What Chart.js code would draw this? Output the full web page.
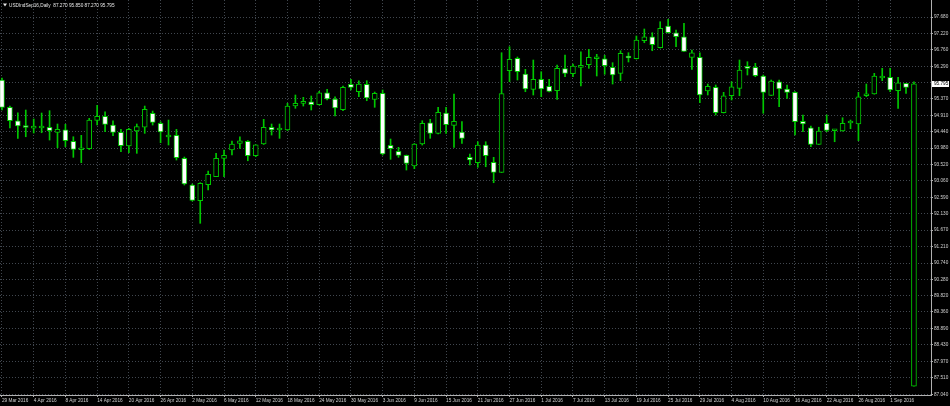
<!DOCTYPE html>
<html>
<head>
<meta charset="utf-8">
<script src="https://cdn.jsdelivr.net/npm/chart.js@4.4.1/dist/chart.umd.min.js"></script>
<style>
html, body { margin: 0; padding: 0; background: #000; }
#wrap { width: 950px; height: 406px; }
</style>
</head>
<body>
<div id="wrap"><canvas id="grafico"></canvas></div>
<script>
const symbolName = "USDIndSep16,Daily";

// OHLC diario
const opens = [
    95.903, 95.133, 94.755, 94.591, 94.546, 94.549, 94.571, 94.428, 94.501, 94.174,
    93.937, 93.965, 94.766, 94.879, 94.633, 94.428, 94.041, 94.464, 94.571, 94.964,
    94.681, 94.295, 94.343, 93.694, 92.941, 92.498, 92.949, 93.175, 93.694, 93.928,
    94.117, 94.174, 93.767, 94.098, 94.571, 94.492, 94.492, 95.169, 95.246, 95.291,
    95.206, 95.545, 95.367, 95.065, 95.782, 95.573, 95.782, 95.358, 95.528, 94.061,
    93.892, 93.779, 93.477, 94.098, 94.698, 94.399, 94.972, 94.625, 94.436, 93.722,
    93.570, 94.069, 93.581, 93.299, 96.165, 96.515, 96.072, 95.641, 95.923, 95.725,
    95.601, 96.222, 96.081, 96.261, 96.334, 96.504, 96.504, 96.261, 96.092, 96.560,
    96.504, 97.011, 97.124, 96.814, 97.426, 97.237, 97.124, 96.543, 96.543, 95.593,
    95.697, 94.980, 95.460, 95.669, 96.278, 96.261, 96.016, 95.471, 95.855, 95.649,
    95.556, 94.738, 94.557, 94.089, 94.681, 94.473, 94.464, 94.690, 94.662, 95.460,
    95.508, 95.959, 95.979, 95.601, 95.810, 87.270
];
const highs = [
    95.959, 95.169, 94.980, 95.057, 94.803, 94.972, 95.037, 94.662, 94.653, 94.303,
    94.343, 94.822, 95.189, 95.009, 94.755, 94.512, 94.540, 94.662, 95.169, 95.028,
    94.727, 94.774, 94.512, 93.731, 92.969, 93.006, 93.336, 93.835, 93.928, 94.182,
    94.303, 94.196, 94.078, 94.794, 94.662, 94.662, 95.246, 95.480, 95.415, 95.452,
    95.584, 95.641, 95.432, 95.734, 95.923, 95.883, 95.883, 95.564, 95.621, 94.239,
    94.004, 93.787, 94.112, 94.755, 94.794, 95.133, 95.133, 95.508, 94.727, 93.815,
    94.162, 94.162, 93.722, 96.673, 96.842, 96.552, 96.205, 96.467, 96.137, 95.923,
    96.326, 96.608, 96.354, 96.701, 96.769, 96.628, 96.600, 96.391, 96.729, 96.673,
    97.144, 97.342, 97.237, 97.547, 97.615, 97.313, 97.502, 96.749, 96.673, 95.790,
    95.762, 95.556, 95.855, 96.467, 96.419, 96.374, 96.044, 95.903, 95.903, 95.762,
    95.578, 94.916, 94.605, 94.571, 94.916, 94.512, 94.839, 94.774, 95.556, 95.790,
    96.092, 96.233, 96.233, 95.979, 95.810, 95.850
];
const lows = [
    95.057, 94.549, 94.258, 94.303, 94.408, 94.416, 94.210, 93.993, 94.021, 93.722,
    93.570, 93.943, 94.633, 94.444, 94.332, 93.880, 93.852, 93.835, 94.399, 94.633,
    94.134, 94.069, 93.646, 92.941, 92.490, 91.861, 92.800, 93.175, 93.175, 93.787,
    93.976, 93.626, 93.739, 94.084, 94.351, 94.258, 94.478, 95.105, 95.169, 95.057,
    95.198, 95.339, 94.887, 95.037, 95.621, 95.432, 95.319, 95.133, 93.787, 93.666,
    93.722, 93.364, 93.401, 94.069, 94.258, 94.380, 94.399, 94.004, 94.117, 93.505,
    93.440, 93.457, 93.006, 93.294, 95.855, 95.903, 95.573, 95.480, 95.432, 95.564,
    95.358, 95.996, 95.996, 95.734, 96.233, 96.016, 96.064, 95.790, 95.883, 96.411,
    96.495, 96.955, 96.729, 96.806, 97.229, 96.842, 96.707, 96.205, 95.262, 95.480,
    94.916, 94.972, 95.339, 95.460, 96.044, 95.996, 94.964, 95.466, 95.150, 95.387,
    94.351, 94.444, 94.021, 94.084, 94.444, 94.162, 94.459, 94.529, 94.191, 95.432,
    95.502, 95.883, 95.573, 95.105, 95.528, 87.270
];
const closes = [
    95.133, 94.755, 94.605, 94.563, 94.571, 94.571, 94.473, 94.512, 94.191, 93.948,
    93.985, 94.774, 94.879, 94.653, 94.428, 94.050, 94.512, 94.586, 95.076, 94.710,
    94.436, 94.351, 93.711, 92.969, 92.509, 92.989, 93.243, 93.694, 93.779, 94.098,
    94.191, 93.767, 94.078, 94.571, 94.492, 94.512, 95.169, 95.246, 95.262, 95.206,
    95.545, 95.367, 95.113, 95.697, 95.697, 95.790, 95.395, 95.528, 93.815, 93.965,
    93.779, 93.553, 94.098, 94.681, 94.399, 94.992, 94.642, 94.738, 94.258, 93.646,
    94.069, 93.767, 93.299, 95.522, 96.487, 96.137, 95.649, 95.923, 95.649, 95.584,
    96.233, 96.092, 96.298, 96.298, 96.543, 96.532, 96.306, 96.044, 96.656, 96.523,
    97.031, 97.124, 96.899, 97.361, 97.237, 97.124, 96.712, 96.673, 95.480, 95.725,
    94.980, 95.460, 95.714, 96.185, 96.233, 96.024, 95.556, 95.875, 95.649, 95.556,
    94.727, 94.662, 94.089, 94.464, 94.484, 94.492, 94.681, 94.710, 95.432, 95.508,
    96.016, 95.996, 95.621, 95.827, 95.697, 95.795
];

// um rotulo de data a cada 4 barras
const dateLabels = [
    "29 Mar 2016", "4 Apr 2016", "8 Apr 2016", "14 Apr 2016", "20 Apr 2016", "26 Apr 2016",
    "2 May 2016", "6 May 2016", "12 May 2016", "18 May 2016", "24 May 2016", "30 May 2016",
    "3 Jun 2016", "9 Jun 2016", "15 Jun 2016", "21 Jun 2016", "27 Jun 2016", "1 Jul 2016",
    "7 Jul 2016", "13 Jul 2016", "19 Jul 2016", "25 Jul 2016", "29 Jul 2016", "4 Aug 2016",
    "10 Aug 2016", "16 Aug 2016", "22 Aug 2016", "26 Aug 2016", "1 Sep 2016"
];
const labelStep = 4;

const priceTicks = [
    97.680, 97.220, 96.760, 96.290, 95.830, 95.370, 94.910, 94.440, 93.980, 93.520,
    93.060, 92.590, 92.130, 91.670, 91.210, 90.740, 90.280, 89.820, 89.360, 88.890,
    88.430, 87.970, 87.510, 87.040
];

const verde = "#00c800";
const corGrade = "#41474f";
const corTexto = "#d0d0d0";
const fonte = { family: "Liberation Sans", size: 4.7 };
const ultimo = closes.length - 1;

const pluginFundo = {
    id: "fundo",
    beforeDraw(chart) {
        const c = chart.ctx;
        c.save();
        c.fillStyle = "#000";
        c.fillRect(0, 0, chart.width, chart.height);
        c.restore();
    },
    afterDraw(chart) {
        const c = chart.ctx;
        const y = chart.scales.y;
        const py = Math.round(y.getPixelForValue(closes[ultimo]));
        c.save();
        // caixa do preco atual
        c.fillStyle = "#fff";
        c.fillRect(y.left + 1, py - 3, 17, 6);
        c.fillStyle = "#000";
        c.font = '4.7px "Liberation Sans"';
        c.textBaseline = "middle";
        c.fillText(closes[ultimo].toFixed(3), y.left + 3, py);
        // titulo
        c.fillStyle = "#e6e6e6";
        c.beginPath();
        c.moveTo(3, 3.5); c.lineTo(7, 3.5); c.lineTo(5, 6.5);
        c.closePath();
        c.fill();
        const titulo = symbolName + "  " + opens[ultimo].toFixed(3) + " " + highs[ultimo].toFixed(3) +
            " " + lows[ultimo].toFixed(3) + " " + closes[ultimo].toFixed(3);
        c.fillText(titulo, 9, 5.5);
        c.restore();
    }
};

const ctx = document.getElementById("grafico").getContext("2d");

new Chart(ctx, {
    type: "bar",
    data: {
        datasets: [
            {
                label: "pavios",
                data: opens.map((o, i) => ({ x: i, y: [lows[i], highs[i]] })),
                backgroundColor: verde,
                borderWidth: 0,
                barThickness: 1,
                grouped: false,
                order: 2
            },
            {
                label: "corpos",
                data: opens.map((o, i) => ({ x: i, y: [o, closes[i]] })),
                backgroundColor: c => closes[c.dataIndex] >= opens[c.dataIndex] ? "#000" : "#fff",
                borderColor: verde,
                borderWidth: 1,
                borderSkipped: false,
                barThickness: 5,
                minBarLength: 2,
                grouped: false,
                order: 1
            }
        ]
    },
    options: {
        responsive: true,
        maintainAspectRatio: false,
        animation: false,
        devicePixelRatio: 1,
        layout: { padding: 0 },
        plugins: {
            legend: { display: false },
            tooltip: { enabled: false }
        },
        scales: {
            x: {
                type: "linear",
                position: "bottom",
                min: -0.25,
                max: 117.15,
                offset: false,
                bounds: "data",
                grid: { color: corGrade, offset: false, tickLength: 2, tickColor: "#b0b0b0", tickBorderDash: [] },
                border: { color: "#b0b0b0", dash: [1, 2] },
                ticks: {
                    autoSkip: false,
                    maxRotation: 0,
                    minRotation: 0,
                    align: "start",
                    padding: 1,
                    color: corTexto,
                    font: fonte,
                    callback: (v, idx) => dateLabels[idx]
                },
                afterBuildTicks: s => { s.ticks = dateLabels.map((_, k) => ({ value: k * labelStep })); },
                afterFit: s => { s.height = 11; s.paddingLeft = 0; s.paddingRight = 0; }
            },
            y: {
                type: "linear",
                position: "right",
                min: 87.018,
                max: 98.16,
                bounds: "data",
                grid: { color: corGrade, tickLength: 2, tickColor: "#b0b0b0", tickBorderDash: [] },
                border: { color: "#b0b0b0", dash: [1, 2] },
                ticks: {
                    autoSkip: false,
                    padding: 1,
                    color: corTexto,
                    font: fonte,
                    callback: v => Math.abs(v - closes[ultimo]) < 0.1 ? "" : v.toFixed(3)
                },
                afterBuildTicks: s => { s.ticks = priceTicks.map(v => ({ value: v })); },
                afterFit: s => { s.width = 19; s.paddingTop = 0; s.paddingBottom = 0; }
            }
        }
    },
    plugins: [pluginFundo]
});
</script>
</body>
</html>
